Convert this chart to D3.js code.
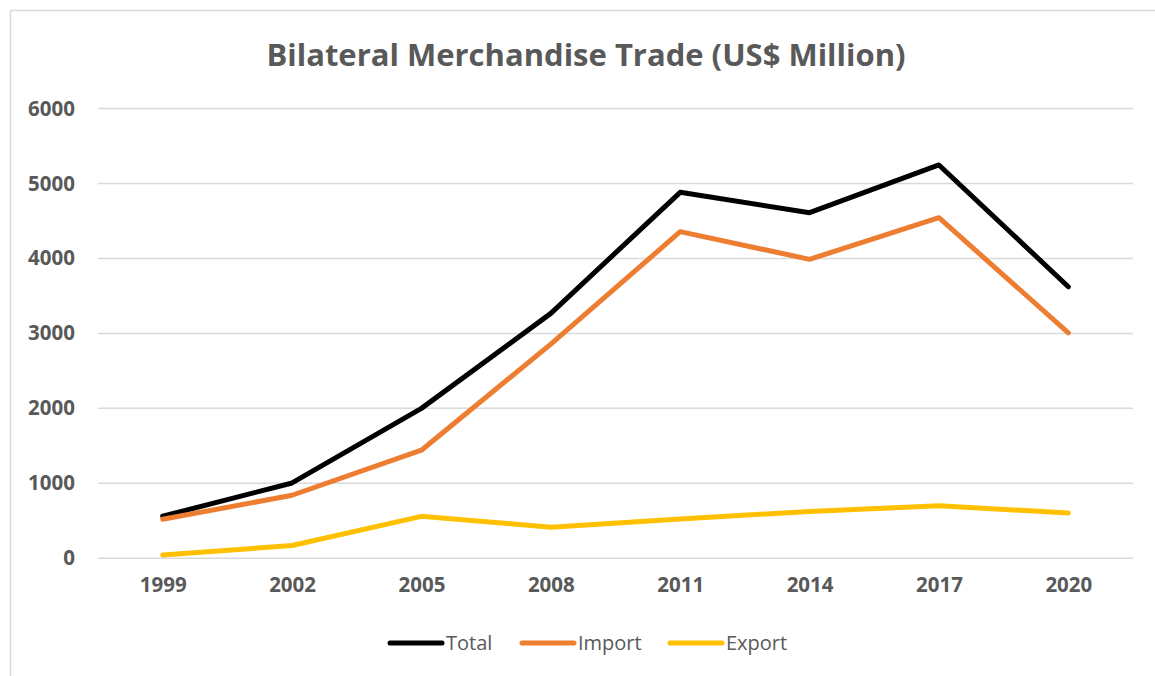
<!DOCTYPE html>
<html>
<head>
<meta charset="utf-8">
<script src="https://cdn.jsdelivr.net/npm/d3@7"></script>
<style>
  body { margin: 0; background: #fff; }
  svg { font-family: "Open Sans", sans-serif; }
</style>
</head>
<body>
<div id="container"></div>
<script>
const years = ['1999', '2002', '2005', '2008', '2011', '2014', '2017', '2020'];
const totalValues = [561, 1005, 2000, 3267, 4882, 4610, 5247, 3622];
const importValues = [520, 841, 1442, 2857, 4357, 3988, 4543, 3008];
const exportValues = [45, 170, 560, 415, 525, 625, 700, 605];
const yTicks = [0, 1000, 2000, 3000, 4000, 5000, 6000];

const series = [
  { name: 'Total', values: totalValues, color: '#000000' },
  { name: 'Import', values: importValues, color: '#ED7D31' },
  { name: 'Export', values: exportValues, color: '#FFC000' }
];

const w = 1155;
const h = 676;
const plotLeft = 98;
const plotRight = 1133;
const plotTop = 108.5;
const plotBottom = 558.3;

const svg = d3.select('#container')
    .append('svg')
    .attr('width', w)
    .attr('height', h);

// marco del gráfico (solo arriba e izquierda visibles)
svg.append('path')
    .attr('d', `M10.5,${h} V10.5 H${w}`)
    .attr('fill', 'none')
    .attr('stroke', '#D9D9D9')
    .attr('stroke-width', 1.5);

const x = d3.scalePoint()
    .domain(years)
    .range([plotLeft, plotRight])
    .padding(0.5);

const y = d3.scaleLinear()
    .domain([0, 6000])
    .range([plotBottom, plotTop]);

// líneas de la cuadrícula
svg.append('g')
    .selectAll('line')
    .data(yTicks)
    .enter()
    .append('line')
    .attr('x1', plotLeft)
    .attr('x2', plotRight)
    .attr('y1', d => y(d))
    .attr('y2', d => y(d))
    .attr('stroke', '#D9D9D9')
    .attr('stroke-width', 1.5);

// eje Y
const axisY = d3.axisLeft(y).tickValues(yTicks).tickFormat(d3.format('d')).tickSize(0).tickPadding(0);
const gy = svg.append('g')
    .attr('transform', `translate(75,0)`)
    .call(axisY);
gy.select('.domain').remove();
gy.selectAll('text')
    .attr('font-family', '"Open Sans", sans-serif')
    .attr('font-size', 20.5)
    .attr('font-weight', 'bold')
    .attr('fill', '#595959');

// eje X
const axisX = d3.axisBottom(x).tickSize(0).tickPadding(0);
const gx = svg.append('g')
    .attr('transform', `translate(0,577)`)
    .call(axisX);
gx.select('.domain').remove();
gx.selectAll('text')
    .attr('font-family', '"Open Sans", sans-serif')
    .attr('font-size', 20.5)
    .attr('font-weight', 'bold')
    .attr('fill', '#595959');

// series
const line = d3.line()
    .x((d, i) => x(years[i]))
    .y(d => y(d));

svg.append('g')
    .selectAll('path')
    .data(series)
    .enter()
    .append('path')
    .attr('d', d => line(d.values))
    .attr('fill', 'none')
    .attr('stroke', d => d.color)
    .attr('stroke-width', 5)
    .attr('stroke-linejoin', 'round')
    .attr('stroke-linecap', 'round');

// título
svg.append('text')
    .attr('x', 586)
    .attr('y', 66)
    .attr('text-anchor', 'middle')
    .attr('font-size', 31)
    .attr('font-weight', 'bold')
    .attr('fill', '#595959')
    .text('Bilateral Merchandise Trade (US$ Million)');

// leyenda
const legendX = [390, 522, 670];
const legend = svg.append('g');
const item = legend.selectAll('g')
    .data(series)
    .enter()
    .append('g')
    .attr('transform', (d, i) => `translate(${legendX[i]},643)`);

item.append('line')
    .attr('x1', 0)
    .attr('x2', 52)
    .attr('stroke', d => d.color)
    .attr('stroke-width', 5)
    .attr('stroke-linecap', 'round');

item.append('text')
    .attr('x', 56)
    .attr('y', 7)
    .attr('font-size', 20)
    .attr('fill', '#595959')
    .text(d => d.name);
</script>
</body>
</html>
